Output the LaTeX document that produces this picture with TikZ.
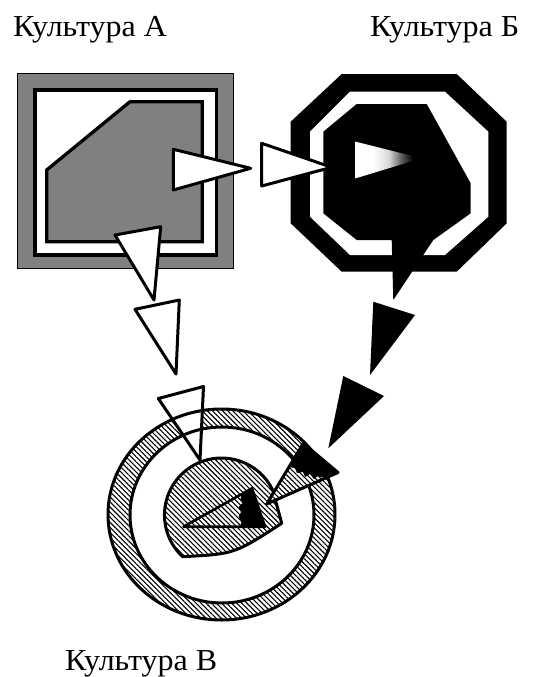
\documentclass[tikz,border=0pt]{standalone}
\usepackage{fontspec}
\setmainfont{Liberation Serif}[FakeStretch=1.05]
\usetikzlibrary{patterns.meta}
\definecolor{bandgray}{RGB}{128,128,128}
\pgfdeclarehorizontalshading{spray}{100bp}{color(0bp)=(white); color(38bp)=(white); color(50bp)=(gray!30); color(60bp)=(gray!70!black); color(68bp)=(black); color(100bp)=(black)}

\begin{document}
\begin{tikzpicture}[
    x=1pt, y=-1pt,
    caption/.style={anchor=base west, inner sep=0pt, font=\fontsize{30.5}{35}\selectfont},
    frame/.style={draw=black, line width=3pt, line join=round},
    whitewedge/.style={frame, fill=white},
    hatched/.style={pattern={Lines[angle=-45, distance=3.6pt, line width=1.1pt]}}
]
\useasboundingbox (0,0) rectangle (537,677);

\node[caption] (labA) at (13,37) {Культура А};
\node[caption] (labB) at (370,37) {Культура Б};
\node[caption] (labC) at (65,670) {Культура В};

% culture A
\draw[fill=bandgray, line width=1.5pt] (17.3,73.3) rectangle (233.3,268.3);
\draw[fill=white, line width=3.3pt] (35,90) rectangle (216.7,255);
\draw[fill=bandgray, line width=3.3pt] (46.7,170) -- (130,101.7) -- (202.3,101.7) -- (202.3,241.7) -- (46.7,241.7) -- cycle;

% culture B
\fill (341.7,74) -- (456.7,74) -- (506.7,121.7) -- (506.7,223.3) -- (456.7,271.7) -- (341.7,271.7) -- (290.7,223.3) -- (290.7,121.7) -- cycle;
\fill[white] (350,91.7) -- (445,91.7) -- (488.3,131.7) -- (488.3,216.7) -- (445,255) -- (350,255) -- (310,216.7) -- (310,131.7) -- cycle;
\fill (323.3,131.7) -- (356.7,104) -- (426.7,104) -- (470.7,183.3) -- (470.7,213.3) -- (433.3,240) -- (393.3,300) -- (391.7,240) -- (356.7,240) -- (323.3,213.3) -- cycle;

% A to B
\draw[whitewedge] (173.3,149.3) -- (173.3,190) -- (250.7,168.3) -- cycle;
\draw[whitewedge] (261.7,143.3) -- (261.7,186) -- (331.7,167.3) -- cycle;
\shade[shading=spray] (355.7,141.7) -- (355.7,178.3) -- (421.7,158.3) -- cycle;

% A to C
\draw[whitewedge] (115,235) -- (160.7,226.7) -- (154,300) -- cycle;
\draw[whitewedge] (135,309.3) -- (179.3,300) -- (176,374) -- cycle;

% B to C
\fill (373.3,301.7) -- (415,315) -- (370,375) -- cycle;
\fill (343.3,376) -- (384,396) -- (328.3,448.3) -- cycle;

% culture C
\path[hatched, even odd rule] (221.5,514.5) ellipse [x radius=113.5, y radius=105.5] (222,515) ellipse [x radius=92, y radius=88];
\draw[frame, hatched] (272.7,490) arc [start angle=-26, end angle=-227, radius=57] .. controls (234.4,554) .. (281.7,523.3) -- cycle;
\draw[whitewedge] (158.3,398.5) -- (203.5,386.5) -- (200,460) -- cycle;
\draw[frame] (221.5,514.5) ellipse [x radius=113.5, y radius=105.5];
\draw[frame] (222,515) ellipse [x radius=92, y radius=88];

\fill[white] (303.3,443.3) -- (338,472.5) -- (266.7,504) -- cycle;
\path[hatched] (303.3,443.3) -- (338,472.5) -- (266.7,504) -- cycle;
\fill (303.3,443.3) -- (338,472.5) -- (325,478.2) -- (318,476) -- (314,479) -- (310,474) -- (305,477) -- (303,472) -- (297,473) -- (295,468) -- (289,467) -- cycle;
\draw[frame] (303.3,443.3) -- (338,472.5) -- (266.7,504) -- cycle;

\fill (242,494) -- (252,488.3) -- (265,526.7) -- (240,526.7) -- (241.5,522) -- (238.5,517) -- (241,512) -- (238.5,507) -- (242.5,503) -- (240.5,499) -- cycle;
\draw[frame, line width=2.6pt] (183.5,526.7) -- (252,488.3) -- (265,526.7) -- cycle;
\end{tikzpicture}
\end{document}
